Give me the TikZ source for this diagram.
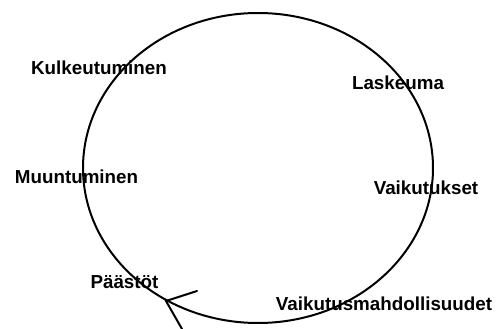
\documentclass[tikz,border=0pt]{standalone}
\usepackage{fontspec}
\setmainfont{Liberation Sans}
\begin{document}
\begin{tikzpicture}[x=1pt,y=-1pt,
  lbl/.style={font=\bfseries\fontsize{18.8}{20}\selectfont, anchor=base, inner sep=0pt},
  ring/.style={line width=2pt, black},
  barb/.style={line width=2pt, black, line cap=round}]
\useasboundingbox (0,0) rectangle (499,329);
\coordinate (c) at (258,168);
\draw[ring] (c) ellipse [x radius=175, y radius=155];
\coordinate (tip) at (166,301);
\coordinate (b1) at (197,291);
\coordinate (b2) at (182,329);
\draw[barb] (b1) -- (tip) -- (b2);
\node[lbl] (kulk) at (99,75) {Kulkeutuminen};
\node[lbl] (lask) at (398,90) {Laskeuma};
\node[lbl] (muun) at (76.5,184) {Muuntuminen};
\node[lbl] (vaik) at (426,195) {Vaikutukset};
\node[lbl] (paas) at (124.5,288) {Päästöt};
\node[lbl] (mahd) at (384,310) {Vaikutusmahdollisuudet};
\end{tikzpicture}
\end{document}
